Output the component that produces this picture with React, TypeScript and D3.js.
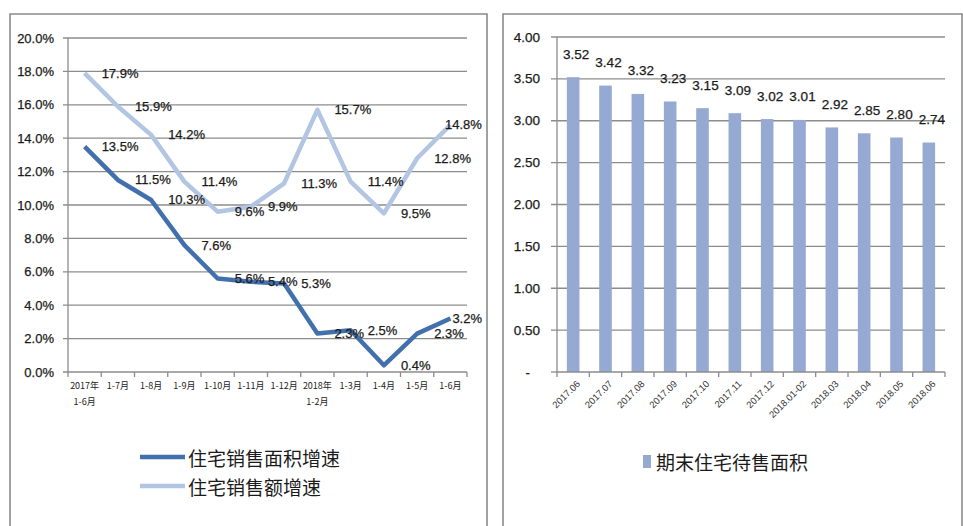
import React from "react";
import * as d3 from "d3";

const lineCats = ["2017年|1-6月", "1-7月", "1-8月", "1-9月", "1-10月", "1-11月", "1-12月", "2018年|1-2月", "1-3月", "1-4月", "1-5月", "1-6月"];
const areaGrowth = [13.5, 11.5, 10.3, 7.6, 5.6, 5.4, 5.3, 2.3, 2.5, 0.4, 2.3, 3.2];
const amountGrowth = [17.9, 15.9, 14.2, 11.4, 9.6, 9.9, 11.3, 15.7, 11.4, 9.5, 12.8, 14.8];
const leftTicks = [0, 2, 4, 6, 8, 10, 12, 14, 16, 18, 20];
const seriesNames = ["住宅销售面积增速", "住宅销售额增速"];

const barCats = ["2017.06", "2017.07", "2017.08", "2017.09", "2017.10", "2017.11", "2017.12", "2018.01-02", "2018.03", "2018.04", "2018.05", "2018.06"];
const inventory = [3.52, 3.42, 3.32, 3.23, 3.15, 3.09, 3.02, 3.01, 2.92, 2.85, 2.80, 2.74];
const rightTicks = [0, 0.5, 1, 1.5, 2, 2.5, 3, 3.5, 4];
const barName = "期末住宅待售面积";

const DARK = "#4270AC";
const LIGHT = "#B2C5E2";
const BAR = "#95A9D2";
const GRID = "#8C8C8C";
const TXT = "#1a1a1a";
const NUM_FONT = "'Liberation Sans', Arial, sans-serif";
const CJK_FONT = "'Noto Sans CJK SC', sans-serif";

export default function App() {
  const xL = d3.scaleBand<string>().domain(lineCats).range([68, 467]);
  const yL = d3.scaleLinear().domain([0, 20]).range([372, 38]);
  const xR = d3.scaleBand<string>().domain(barCats).range([557, 945]).paddingInner(0.61).paddingOuter(0.305);
  const xRc = d3.scaleBand<string>().domain(barCats).range([557, 945]);
  const yR = d3.scaleLinear().domain([0, 4]).range([372, 37]);

  const cx = (c: string) => (xL(c) as number) + xL.bandwidth() / 2;
  const line = d3.line<number>().x((_, i) => cx(lineCats[i])).y((d) => yL(d));

  const labelX = (i: number, txt: string) => {
    const w = txt.length * 7.4;
    let x = cx(lineCats[i]) + 17;
    if (x + w > 482) x = 482 - w;
    return x;
  };

  const fmtR = (v: number) => (v === 0 ? "-" : d3.format(".2f")(v));
  const num = { fontFamily: NUM_FONT, fill: TXT, stroke: TXT, strokeWidth: 0.25 } as const;

  return (
    <svg width={963} height={526} style={{ position: "absolute", left: 0, top: 0, background: "#fff" }}>
      {/* panel borders */}
      <path d="M10,530 V14 H487 V530" fill="none" stroke="#8a8a8a" strokeWidth={1.6} />
      <path d="M503,530 V14 H962 V530" fill="none" stroke="#8a8a8a" strokeWidth={1.6} />

      {/* LEFT CHART */}
      {leftTicks.map((t) => (
        <g key={"lg" + t}>
          <line x1={63} x2={467} y1={yL(t)} y2={yL(t)} stroke={GRID} strokeWidth={1.3} />
          <text x={54} y={yL(t)} textAnchor="end" dominantBaseline="central" fontSize={13} {...num}>
            {t.toFixed(1) + "%"}
          </text>
        </g>
      ))}
      <line x1={68} x2={68} y1={38} y2={372} stroke={GRID} strokeWidth={1.3} />
      {lineCats.map((c, i) => (
        <line key={"lt" + i} x1={xL(c) as number} x2={xL(c) as number} y1={372} y2={377} stroke={GRID} strokeWidth={1.3} />
      ))}
      <line x1={467} x2={467} y1={372} y2={377} stroke={GRID} strokeWidth={1.3} />
      {lineCats.map((c, i) => {
        const parts = c.split("|");
        return (
          <text key={"lx" + i} x={cx(c)} y={389} textAnchor="middle" fontFamily={CJK_FONT} fontSize={9} fill="#222">
            {parts.map((p, j) => (
              <tspan key={j} x={cx(c)} dy={j === 0 ? 0 : 16}>{p}</tspan>
            ))}
          </text>
        );
      })}
      <path d={line(areaGrowth) || ""} fill="none" stroke={DARK} strokeWidth={4.5} strokeLinejoin="round" />
      <path d={line(amountGrowth) || ""} fill="none" stroke={LIGHT} strokeWidth={4.5} strokeLinejoin="round" />
      {areaGrowth.map((v, i) => {
        const t = v.toFixed(1) + "%";
        return (
          <text key={"ad" + i} x={labelX(i, t)} y={yL(v)} dominantBaseline="central" fontSize={13} {...num}>{t}</text>
        );
      })}
      {amountGrowth.map((v, i) => {
        const t = v.toFixed(1) + "%";
        return (
          <text key={"am" + i} x={labelX(i, t)} y={yL(v)} dominantBaseline="central" fontSize={13} {...num}>{t}</text>
        );
      })}
      {/* left legend */}
      <line x1={140} x2={185} y1={457} y2={457} stroke={DARK} strokeWidth={4.5} />
      <text x={188} y={457} dominantBaseline="central" fontFamily={CJK_FONT} fontSize={19} fill={TXT}>{seriesNames[0]}</text>
      <line x1={140} x2={185} y1={486} y2={486} stroke={LIGHT} strokeWidth={4.5} />
      <text x={188} y={486} dominantBaseline="central" fontFamily={CJK_FONT} fontSize={19} fill={TXT}>{seriesNames[1]}</text>

      {/* RIGHT CHART */}
      {rightTicks.map((t) => (
        <g key={"rg" + t}>
          {t > 0 && <line x1={551} x2={945} y1={yR(t)} y2={yR(t)} stroke={GRID} strokeWidth={1.3} />}
          {t === 0 && <line x1={551} x2={557} y1={yR(t)} y2={yR(t)} stroke={GRID} strokeWidth={1.3} />}
          <text x={t === 0 ? 530 : 540} y={yR(t)} textAnchor="end" dominantBaseline="central" fontSize={13.5} {...num}>
            {fmtR(t)}
          </text>
        </g>
      ))}
      {inventory.map((v, i) => (
        <rect key={"b" + i} x={xR(barCats[i]) as number} width={xR.bandwidth()} y={yR(v)} height={yR(0) - yR(v)} fill={BAR} />
      ))}
      <line x1={557} x2={557} y1={37} y2={372} stroke={GRID} strokeWidth={1.3} />
      <line x1={557} x2={945} y1={372} y2={372} stroke={GRID} strokeWidth={1.3} />
      {barCats.map((c, i) => (
        <line key={"rt" + i} x1={xRc(c) as number} x2={xRc(c) as number} y1={372} y2={377} stroke={GRID} strokeWidth={1.3} />
      ))}
      <line x1={945} x2={945} y1={372} y2={377} stroke={GRID} strokeWidth={1.3} />
      {inventory.map((v, i) => {
        const c = (xRc(barCats[i]) as number) + xRc.bandwidth() / 2;
        return (
          <text key={"bl" + i} x={c + 3} y={yR(v) - 23} textAnchor="middle" dominantBaseline="central" fontSize={13.5} {...num}>
            {v.toFixed(2)}
          </text>
        );
      })}
      {barCats.map((c, i) => {
        const x = (xRc(c) as number) + xRc.bandwidth() / 2 + 5;
        return (
          <text key={"bx" + i} transform={`translate(${x},382) rotate(-45)`} textAnchor="end" dominantBaseline="central" fontFamily={NUM_FONT} fontSize={9.5} fill="#333">
            {c}
          </text>
        );
      })}
      {/* right legend */}
      <rect x={643} y={455} width={8} height={13} fill={BAR} />
      <text x={656} y={461} dominantBaseline="central" fontFamily={CJK_FONT} fontSize={19} fill={TXT}>{barName}</text>
    </svg>
  );
}
